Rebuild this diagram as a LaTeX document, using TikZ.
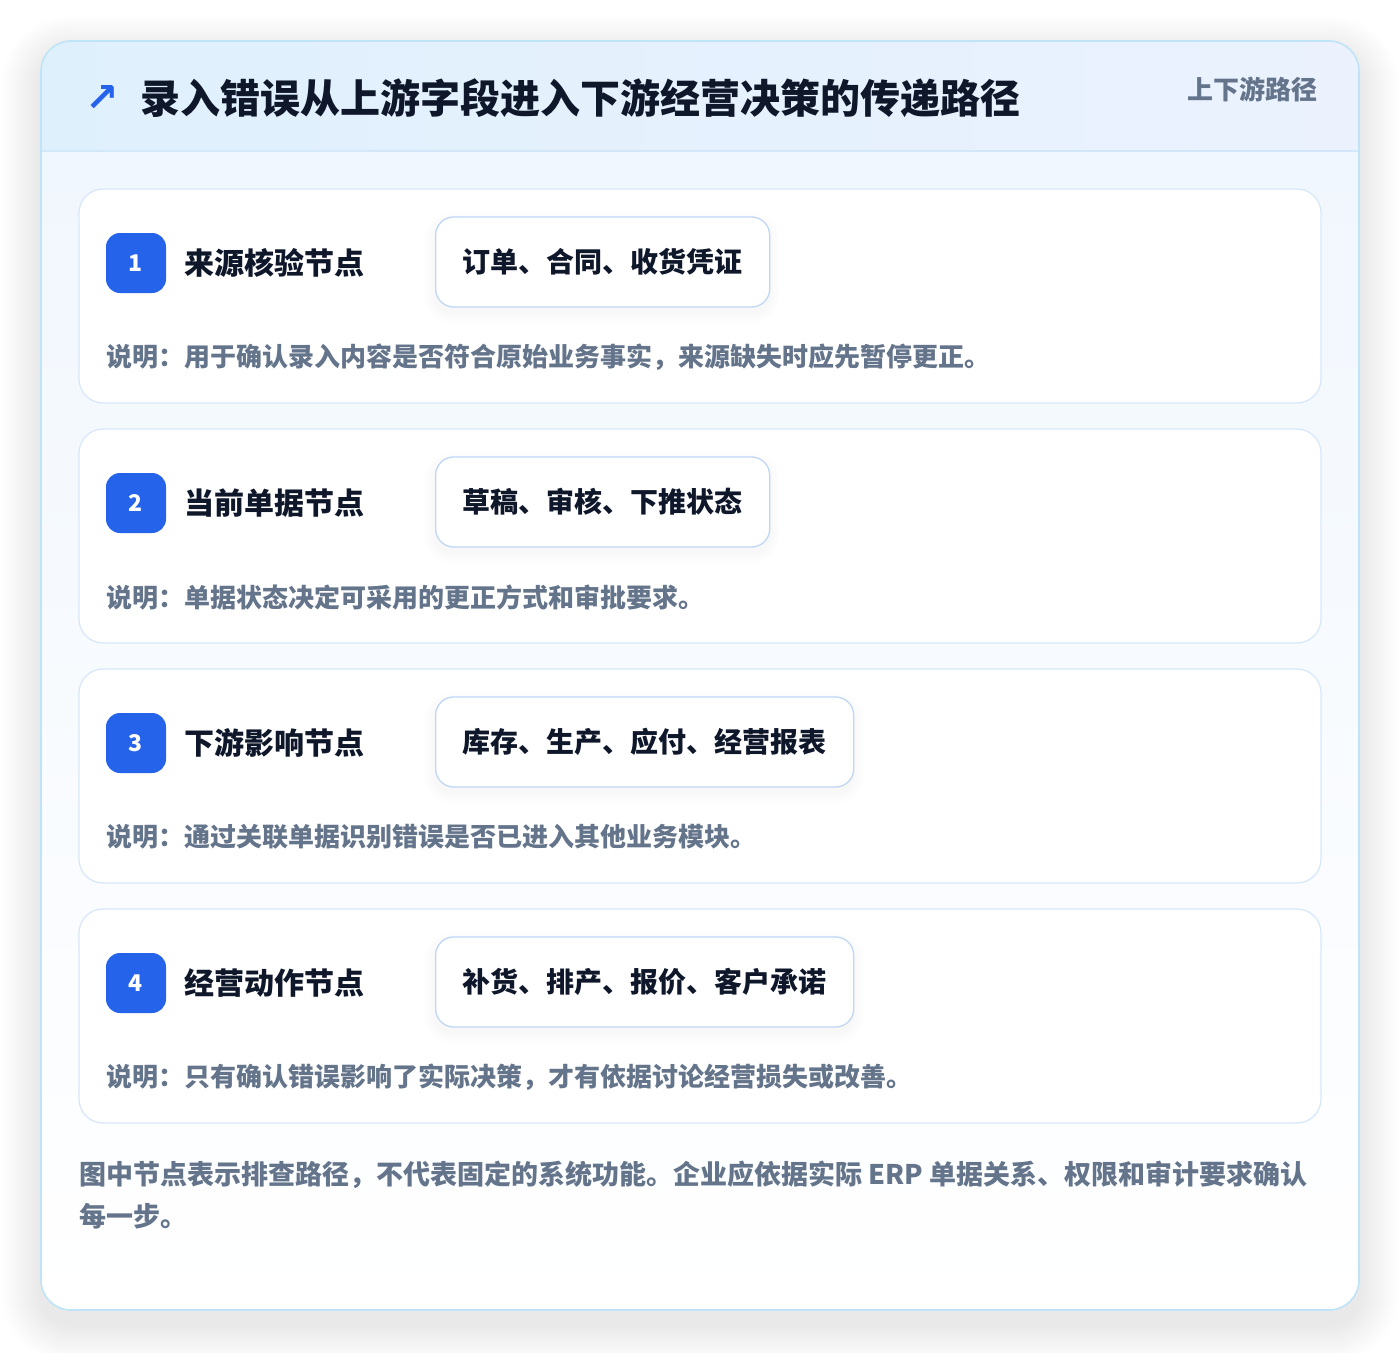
\documentclass[tikz,border=0pt]{standalone}
\usepackage{fontspec}
\setmainfont{Noto Sans CJK SC}
\newfontfamily\symfont{DejaVu Sans}
\definecolor{pagebg}{HTML}{FFFFFF}
\definecolor{outerline}{HTML}{BFE3F7}
\definecolor{headL}{HTML}{DFF0FD}
\definecolor{headR}{HTML}{EBF2FE}
\definecolor{headline}{HTML}{D3E7FA}
\definecolor{bodyT}{HTML}{F1F7FE}
\definecolor{bodyB}{HTML}{FFFFFF}
\definecolor{cardline}{HTML}{D8E8FA}
\definecolor{chipline}{HTML}{BFD7F5}
\definecolor{accent}{HTML}{2563EB}
\definecolor{titlec}{HTML}{0F172A}
\definecolor{mutedc}{HTML}{64748B}
\tikzset{
  card/.style={draw=cardline, line width=1.3pt, fill=white, rounded corners=24pt,
    minimum width=1242pt, minimum height=214pt, inner sep=0pt},
  badge/.style={fill=accent, rounded corners=14pt, minimum width=60pt, minimum height=60pt,
    inner sep=0pt, text=white, font=\fontsize{23}{26}\selectfont\bfseries},
  steplabel/.style={anchor=west, inner sep=0pt, text=titlec, font=\fontsize{30}{36}\selectfont\bfseries},
  chip/.style={draw=chipline, line width=1.3pt, fill=white, rounded corners=18pt,
    minimum height=90pt, inner xsep=27pt, inner ysep=0pt, anchor=west, text=titlec,
    font=\fontsize{28}{34}\selectfont\bfseries},
  desc/.style={anchor=west, inner sep=0pt, text=mutedc, font=\fontsize{26}{32}\selectfont\bfseries},
  shadowlayer/.style={fill=black, opacity=#1},
}
\begin{document}
\begin{tikzpicture}[x=1pt,y=-1pt]
\useasboundingbox (0,0) rectangle (1400,1352);
\fill[pagebg] (0,0) rectangle (1400,1352);
% soft outer shadow
\foreach \k in {1,...,22}{
  \pgfmathsetmacro{\r}{30+\k*1.8}
  \fill[shadowlayer=0.0032, rounded corners=\r pt]
    (41-\k*1.8, 41+14-\k*1.8) rectangle (1359+\k*1.8, 1310+14+\k*1.8);
}
% outer card
\fill[white, rounded corners=30pt] (41,41) rectangle (1359,1310);
\begin{scope}
  \clip[rounded corners=30pt] (41,41) rectangle (1359,1310);
  \shade[top color=bodyT, bottom color=bodyB] (41,151) rectangle (1359,1310);
  \shade[left color=headL, right color=headR] (41,41) rectangle (1359,151);
  \draw[headline, line width=1.3pt] (41,151) -- (1359,151);
\end{scope}
\draw[outerline, line width=1.6pt, rounded corners=30pt] (41,41) rectangle (1359,1310);
% header
\node[anchor=center, inner sep=0pt, text=accent, font=\fontsize{40}{44}\selectfont\symfont\bfseries] (icon) at (102,98) {↗};
\node[anchor=west, inner sep=0pt, text=titlec, font=\fontsize{40}{46}\selectfont\bfseries] (title) at (140,98) {录入错误从上游字段进入下游经营决策的传递路径};
\node[anchor=east, inner sep=0pt, text=mutedc, font=\fontsize{26}{30}\selectfont\bfseries] (tag) at (1318,89) {上下游路径};
% step cards
\foreach \i/\y/\lab/\chipw/\chipt/\d in {
  1/296/来源核验节点/334/订单、合同、收货凭证/说明：用于确认录入内容是否符合原始业务事实，来源缺失时应先暂停更正。,
  2/536/当前单据节点/334/草稿、审核、下推状态/说明：单据状态决定可采用的更正方式和审批要求。,
  3/776/下游影响节点/418/库存、生产、应付、经营报表/说明：通过关联单据识别错误是否已进入其他业务模块。,
  4/1016/经营动作节点/418/补货、排产、报价、客户承诺/说明：只有确认错误影响了实际决策，才有依据讨论经营损失或改善。}{
  \node[card] (card\i) at (700,\y) {};
  \node[badge] (badge\i) at (136,\y-33) {\i};
  \node[steplabel] (lab\i) at (184,\y-33) {\lab};
  \foreach \k in {1,...,7}{
    \pgfmathsetmacro{\r}{18+\k*1.6}
    \fill[shadowlayer=0.005, rounded corners=\r pt]
      (435-\k*1.6, \y-79+6-\k*1.6) rectangle (435+\chipw+\k*1.6, \y+11+6+\k*1.6);
  }
  \node[chip] (chip\i) at (435,\y-34) {\chipt};
  \node[desc] (desc\i) at (106,\y+61) {\d};
}
% footer
\node[anchor=north west, inner sep=0pt, text=mutedc, align=left,
  font=\fontsize{27}{42}\selectfont\bfseries] (foot) at (79,1161)
  {图中节点表示排查路径，不代表固定的系统功能。企业应依据实际 ERP 单据关系、权限和审计要求确认\\每一步。};
\end{tikzpicture}
\end{document}
